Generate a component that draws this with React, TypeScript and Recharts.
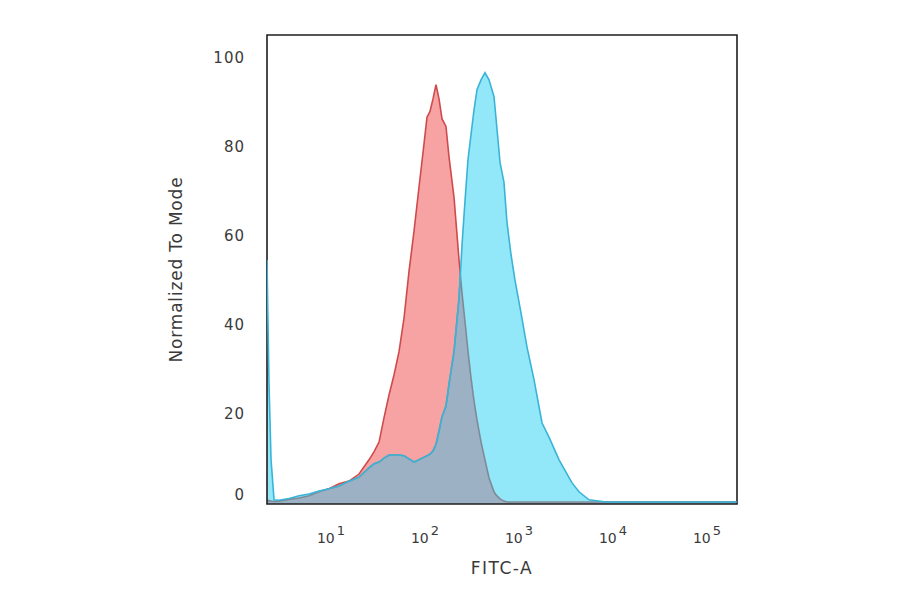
import React from 'react';
import { ComposedChart, Area, Line, XAxis, YAxis, ReferenceArea } from 'recharts';

// log10(FITC-A) positions
const fitcLog = [
  0.319, 0.340, 0.362, 0.394, 0.447, 0.553, 0.660, 0.766, 0.872, 0.979,
  1.085, 1.191, 1.298, 1.404, 1.457, 1.511, 1.564, 1.617, 1.670, 1.723,
  1.777, 1.830, 1.883, 1.936, 1.989, 2.021, 2.053, 2.085, 2.117, 2.149,
  2.181, 2.223, 2.255, 2.309, 2.362, 2.376, 2.394, 2.426, 2.457, 2.489, 2.521,
  2.553, 2.596, 2.638, 2.681, 2.734, 2.755, 2.798, 2.840, 2.872, 2.915,
  2.957, 3.021, 3.085, 3.160, 3.245, 3.319, 3.426, 3.564, 3.638, 3.745,
  3.926, 4.383, 4.915, 5.319,
];

// isotype control (red)
const isotype = [
  0.3, 0.3, 0.2, 0.1, 0.2, 0.6, 0.9, 1.4, 2.3, 3.0,
  4.1, 4.7, 6.3, 9.5, 11.3, 13.5, 19.0, 24.1, 28.6, 33.8,
  41.5, 52.0, 61.0, 70.9, 80.6, 86.7, 88.0, 90.8, 94.0, 90.8,
  86.3, 84.6, 77.8, 68.5, 54.5, 51.2, 47.0, 40.5, 34.0, 28.0, 22.8,
  18.5, 13.5, 9.5, 5.4, 2.3, 1.6, 0.7, 0.2, 0, 0,
  0, 0, 0, 0, 0, 0, 0, 0, 0, 0,
  0, 0, 0, 0,
];

// stained sample (blue)
const stained = [
  54.5, 27, 9.5, 0.5, 0.4, 0.8, 1.4, 1.8, 2.5, 3.0,
  3.6, 4.7, 5.6, 7.7, 8.6, 9.0, 9.9, 10.6, 10.6, 10.6,
  10.4, 9.7, 9.0, 9.5, 10.1, 10.4, 10.8, 11.5, 13.0, 16.0,
  19.2, 21.6, 26.5, 34.0, 46.0, 51.2, 58.0, 68.0, 77.1, 82.7, 88.3,
  92.9, 95.1, 96.7, 95.1, 91.3, 86.5, 76.5, 72.0, 63.0, 55.7,
  50.0, 42.6, 34.9, 27.5, 17.8, 14.6, 9.5, 4.3, 2.3, 0.5,
  0, 0, 0, 0,
];

const xTicks = [1, 2, 3, 4, 5];
const yTicks = [0, 20, 40, 60, 80, 100];

const X_MIN = 0.319;
const X_MAX = 5.319;
const Y_MIN = -0.45;
const Y_MAX = 105.2;

const rows = fitcLog.map((x, i) => ({
  x,
  red: isotype[i],
  blue: stained[i],
  both: Math.min(isotype[i], stained[i]),
}));

const FONT = '"DejaVu Sans", Verdana, sans-serif';
const TEXT = '#3a3a3a';

const XTick = (props: any) => {
  const { x, y, payload } = props;
  return (
    <text x={x} y={y + 39} textAnchor="middle" fontFamily={FONT} fill={TEXT} fontSize={14}>
      <tspan>10</tspan>
      <tspan dx={2} dy={-8} fontSize={13}>{payload.value}</tspan>
    </text>
  );
};

const YTick = (props: any) => {
  const { x, y, payload } = props;
  const yy = payload.value === 0 ? y - 7 : y;
  return (
    <text x={x} y={yy} dy="0.355em" textAnchor="end" fontFamily={FONT} fill={TEXT} fontSize={15} letterSpacing={1}>
      {payload.value}
    </text>
  );
};

export default function App() {
  return (
    <div style={{ width: 884, height: 578, background: '#fff' }}>
      <ComposedChart
        width={884}
        height={578}
        data={rows}
        margin={{ top: 27, right: 155, bottom: 0, left: 159 }}
      >
        <XAxis
          dataKey="x"
          type="number"
          domain={[X_MIN, X_MAX]}
          ticks={xTicks}
          allowDataOverflow
          axisLine={false}
          tickLine={false}
          tickSize={0}
          tickMargin={0}
          height={82}
          tick={<XTick />}
          label={{
            value: 'FITC-A',
            position: 'insideBottom',
            offset: 12,
            fill: TEXT,
            fontSize: 17,
            fontFamily: FONT,
            letterSpacing: 1.5,
          }}
        />
        <YAxis
          type="number"
          domain={[Y_MIN, Y_MAX]}
          ticks={yTicks}
          allowDataOverflow
          axisLine={false}
          tickLine={false}
          tickSize={0}
          tickMargin={22}
          width={100}
          tick={<YTick />}
          label={{
            value: 'Normalized To Mode',
            angle: -90,
            position: 'insideLeft',
            offset: 9,
            fill: TEXT,
            fontSize: 17,
            fontFamily: FONT,
            letterSpacing: 0.8,
            style: { textAnchor: 'middle' },
          }}
        />
        <Area
          dataKey="red"
          type="linear"
          baseValue={Y_MIN}
          fill="#f8a3a3"
          fillOpacity={1}
          stroke="#cf4b4b"
          strokeWidth={1.6}
          dot={false}
          activeDot={false}
          isAnimationActive={false}
        />
        <Area
          dataKey="blue"
          type="linear"
          baseValue={Y_MIN}
          fill="#92e8f9"
          fillOpacity={1}
          stroke="none"
          dot={false}
          activeDot={false}
          isAnimationActive={false}
        />
        <Area
          dataKey="both"
          type="linear"
          baseValue={Y_MIN}
          fill="#9db1c5"
          fillOpacity={1}
          stroke="#7f8a98"
          strokeWidth={1.6}
          dot={false}
          activeDot={false}
          isAnimationActive={false}
        />
        <Line
          dataKey="blue"
          type="linear"
          stroke="#3ab4d6"
          strokeWidth={1.6}
          dot={false}
          activeDot={false}
          isAnimationActive={false}
        />
        <ReferenceArea
          x1={X_MIN}
          x2={X_MAX}
          y1={Y_MIN}
          y2={Y_MAX}
          fill="none"
          fillOpacity={0}
          stroke="#1e1e1e"
          strokeWidth={1.6}
          ifOverflow="visible"
        />
      </ComposedChart>
    </div>
  );
}
